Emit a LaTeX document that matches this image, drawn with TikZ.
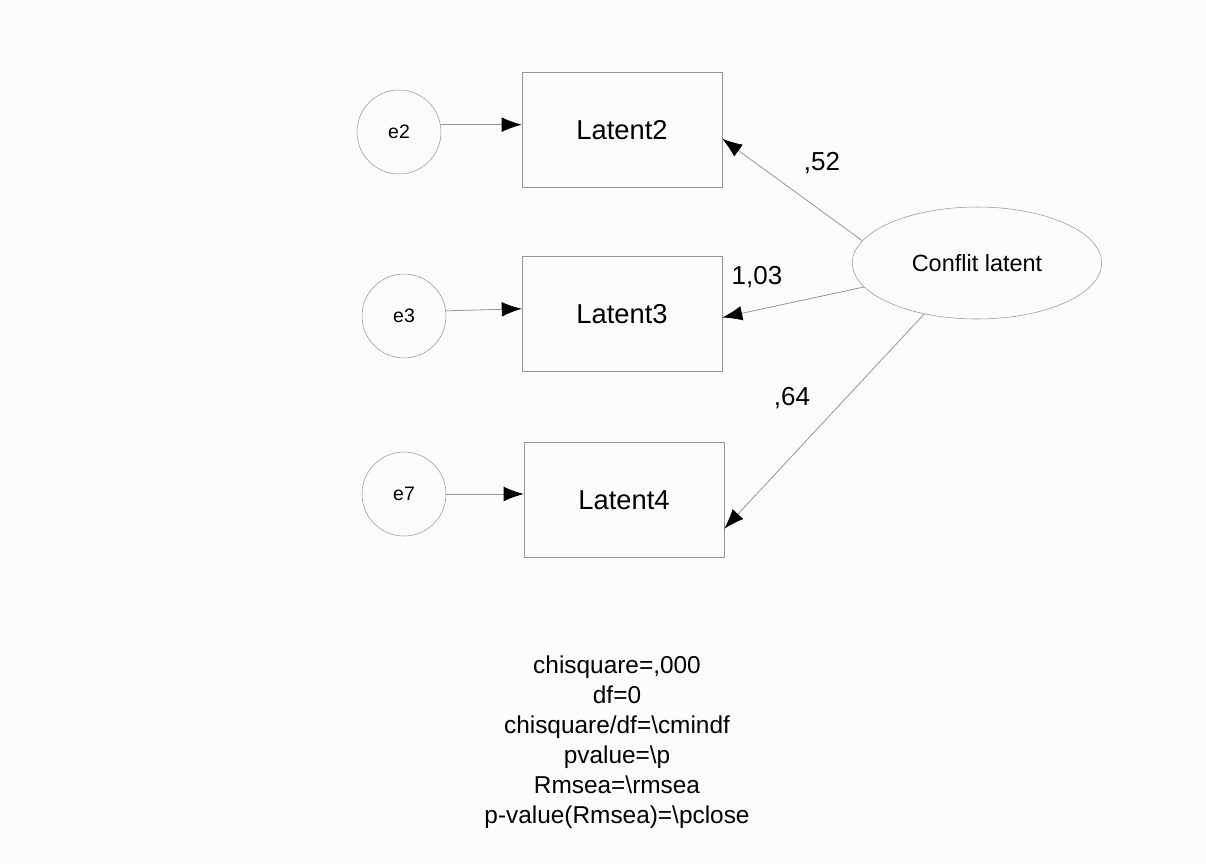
\documentclass[tikz,border=0pt]{standalone}
\usepackage{fontspec}
\setmainfont{Liberation Sans}
\usepackage{tikz}
\usetikzlibrary{shapes.geometric,arrows.meta}
\definecolor{edgegray}{RGB}{150,150,150}
\definecolor{paper}{RGB}{252,252,252}

\begin{document}
\begin{tikzpicture}[x=0.75pt, y=-0.75pt]
    \tikzstyle{err}=[draw=edgegray,shape=circle,minimum size=63pt,inner sep=0pt,font=\fontsize{14.6}{17}\selectfont];
    \tikzstyle{obs}=[draw=edgegray,shape=rectangle,minimum width=150pt,minimum height=86pt,font=\fontsize{20.5}{24}\selectfont];
    \tikzstyle{lat}=[draw=edgegray,shape=ellipse,minimum width=187pt,minimum height=84pt,inner sep=0pt,font=\fontsize{17.6}{21}\selectfont];
    \tikzstyle{reg}=[draw=edgegray,line width=0.6pt,-{Latex[black,length=15pt,width=11pt]}];
    \tikzstyle{coef}=[inner sep=0pt,font=\fontsize{19.5}{23}\selectfont];
    \fill[paper] (0,0) rectangle (1206,864);
    \useasboundingbox (0,0) rectangle (1206,864);
    %errors
    \node[err] (e2) at (399,132) {e2};
    \node[err] (e3) at (404,316) {e3};
    \node[err] (e7) at (404,494) {e7};
    %observed
    \node[obs] (l2) at (622,130) {Latent2};
    \node[obs] (l3) at (622,314) {Latent3};
    \node[obs] (l4) at (624,500) {Latent4};
    %latent
    \node[lat] (cl) at (977,263) {Conflit latent};
    \draw[reg] (e2.10) -- (e2.10 -| l2.west);
    \draw[reg] (e3.7) -- (l3.177);
    \draw[reg] (e7.east) -- (e7.east -| l4.west);
    \draw[reg] (cl.169) -- (l2.-5);
    \draw[reg] (cl.192) -- (l3.-2);
    \draw[reg] (cl.224) -- (l4.-16);
    \node[coef] (c52) at (822,163) {,52};
    \node[coef] (c103) at (757,277) {1,03};
    \node[coef] (c64) at (792,398) {,64};
    %fit
    \node[align=center,font=\fontsize{18.3}{22.5}\selectfont] (fit) at (617,742) {chisquare=,000\\df=0\\chisquare/df=\textbackslash cmindf\\pvalue=\textbackslash p\\Rmsea=\textbackslash rmsea\\p-value(Rmsea)=\textbackslash pclose};
\end{tikzpicture}
\end{document}
